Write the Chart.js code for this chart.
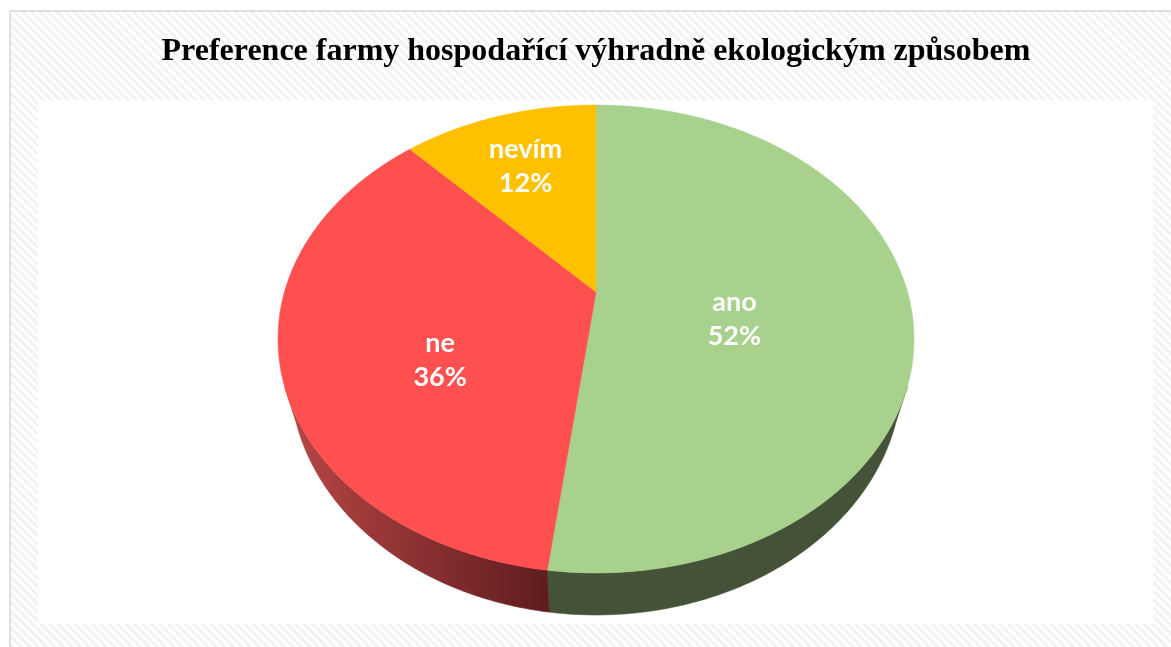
<!DOCTYPE html>
<html lang="cs">
<head>
<meta charset="utf-8">
<title>Preference farmy</title>
<script src="https://cdn.jsdelivr.net/npm/chart.js@4"></script>
<style>
    html, body { margin: 0; padding: 0; background: #fff; overflow: hidden; }
    #stage { position: relative; width: 1171px; height: 647px; }
    #frame {
        position: absolute; left: 9px; top: 10px; right: 0; bottom: 0;
        box-sizing: border-box;
        border-left: 2px solid #e0e0e0; border-top: 2px solid #e0e0e0;
        background: repeating-linear-gradient(45deg, #f3f3f3 0 3px, #fff 3px 6px);
    }
    #plot { position: absolute; left: 38px; top: 100px; width: 1115px; height: 524px; background: #fff; }
    canvas { position: absolute; left: 0; top: 0; }
</style>
</head>
<body>
<div id="stage">
    <div id="frame"></div>
    <div id="plot"></div>
    <canvas id="chart" width="1171" height="647"></canvas>
</div>
<script>
'use strict';

const chartTitle = 'Preference farmy hospodařící výhradně ekologickým způsobem';
const categories = ['ano', 'ne', 'nevím'];
const shares = [52, 36, 12];

const topColors = ['#a9d18e', '#ff5050', '#ffc000'];
const wallColors = [['#445337', '#445337'], ['#b84646', '#5f1c1e'], ['#7f6000', '#7f6000']];
// nudge of each label from the middle of its slice, px
const labelNudges = [[-18, 20], [-3, 32], [-18, -30]];

/**
 * Chart.js has no 3D pie, so the arcs it lays out are redrawn here through a
 * perspective projection. Angles and centre still come from the arc elements.
 */
const perspectivePie = {
    id: 'perspectivePie',
    beforeDatasetsDraw(chart, args, opts) {
        const ctx = chart.ctx;
        const arcs = chart.getDatasetMeta(0).data;

        const project = (arc, angle, radius, wall) => {
            const u = Math.cos(angle) * radius;
            const v = Math.sin(angle) * radius;
            const w = 1 - opts.tilt * v;
            const x = arc.outerRadius * opts.scaleX * u / w;
            const y = arc.outerRadius * opts.scaleY * v / w;
            if (wall) {
                return [arc.x + x * opts.wallScaleX, arc.y + opts.wallDrop + y * opts.wallScaleY];
            }
            return [arc.x + x, arc.y + y];
        };

        const rim = (arc, from, to, wall) => {
            const points = [];
            const steps = Math.ceil((to - from) / 0.01);
            for (let i = 0; i <= steps; i++) {
                points.push(project(arc, from + (to - from) * i / steps, 1, wall));
            }
            return points;
        };

        const tracePolygon = (points) => {
            ctx.beginPath();
            points.forEach((p, i) => (i ? ctx.lineTo(p[0], p[1]) : ctx.moveTo(p[0], p[1])));
            ctx.closePath();
        };

        ctx.save();
        ctx.lineWidth = 0.6;

        // only the front of the side wall can be seen, the ends hide behind the top
        arcs.forEach((arc, i) => {
            const from = Math.max(arc.startAngle, opts.wallInset);
            const to = Math.min(arc.endAngle, Math.PI - opts.wallInset);
            if (to <= from) {
                return;
            }
            const upper = rim(arc, from, to, false);
            const lower = rim(arc, from, to, true);
            const xs = upper.concat(lower).map((p) => p[0]);
            const gradient = ctx.createLinearGradient(Math.min(...xs), 0, Math.max(...xs), 0);
            gradient.addColorStop(0, wallColors[i][0]);
            gradient.addColorStop(1, wallColors[i][1]);
            tracePolygon(upper.concat(lower.reverse()));
            ctx.fillStyle = gradient;
            ctx.strokeStyle = gradient;
            ctx.fill();
            ctx.stroke();
        });

        arcs.forEach((arc, i) => {
            tracePolygon([[arc.x, arc.y]].concat(rim(arc, arc.startAngle, arc.endAngle, false)));
            ctx.fillStyle = topColors[i];
            ctx.strokeStyle = topColors[i];
            ctx.fill();
            ctx.stroke();
        });

        ctx.fillStyle = '#fff';
        ctx.font = opts.labelFont;
        ctx.textAlign = 'center';
        ctx.textBaseline = 'middle';
        arcs.forEach((arc, i) => {
            const mid = project(arc, (arc.startAngle + arc.endAngle) / 2, 0.5, false);
            const x = mid[0] + labelNudges[i][0];
            const y = mid[1] + labelNudges[i][1];
            ctx.fillText(categories[i], x, y - opts.labelGap);
            ctx.fillText(shares[i] + '%', x, y + opts.labelGap);
        });

        ctx.restore();
        return false;
    },
};

new Chart(document.getElementById('chart'), {
    type: 'pie',
    data: {
        labels: categories,
        datasets: [{ data: shares, backgroundColor: topColors, borderWidth: 0 }],
    },
    options: {
        responsive: false,
        animation: false,
        events: [],
        layout: { padding: { left: 21, bottom: 155 } },
        plugins: {
            legend: { display: false },
            tooltip: { enabled: false },
            title: {
                display: true,
                text: chartTitle,
                color: '#000',
                font: { family: '"Liberation Serif"', size: 32, weight: 'bold', lineHeight: 1.2 },
                padding: { top: 33, bottom: 20.6 },
            },
            perspectivePie: {
                tilt: 0.2009,
                scaleX: 1.5575,
                scaleY: 1.1225,
                wallScaleX: 0.962,
                wallScaleY: 1.026,
                wallDrop: 34.7,
                wallInset: 0.4,
                labelFont: 'bold 27px Lato',
                labelGap: 17,
            },
        },
    },
    plugins: [perspectivePie],
});
</script>
</body>
</html>
